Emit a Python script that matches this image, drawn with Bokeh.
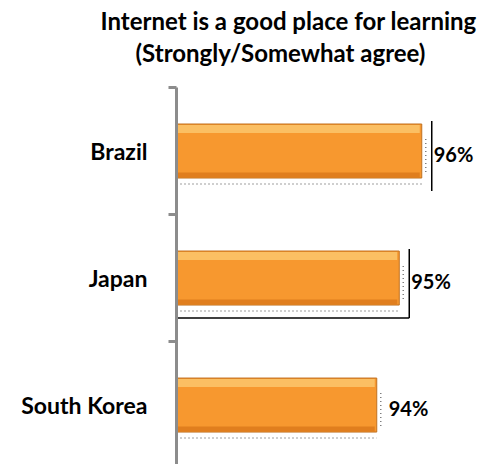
from bokeh.plotting import figure
from bokeh.models import Range1d, FixedTicker, Title, ColumnDataSource
from bokeh.core.properties import value
from bokeh.embed import file_html
from bokeh.resources import INLINE

# ---- data ----
countries = ["Brazil", "Japan", "South Korea"]
agree_pct = [96, 95, 94]
title_line1 = "Internet is a good place for learning"
title_line2 = "(Strongly/Somewhat agree)"

FONT = "Lato"
pos = list(range(len(countries)))
labels = [f"{v}%" for v in agree_pct]

W, H = 485, 464
LEFT, TOP = 176, 87
x_start = 85.1
px_per_unit = 22.5
x_end = x_start + (W - LEFT) / px_per_unit

p = figure(width=W, height=H, output_backend="svg", toolbar_location=None,
           x_range=Range1d(x_start, x_end), y_range=Range1d(2.468, -0.5),
           min_border_left=LEFT, min_border_right=0, min_border_bottom=0, min_border_top=TOP,
           x_axis_location=None)
p.outline_line_color = None
p.xgrid.visible = False
p.ygrid.visible = False
p.background_fill_color = "white"
p.border_fill_color = "white"

src = ColumnDataSource(dict(y=pos, v=agree_pct, lab=labels))

ux = 1.0 / px_per_unit        # one pixel in x data units
uy = 1.0 / 127.0              # one pixel in y data units
bh = 54 * uy

# dotted shadow under bars
p.segment(x0=x_start, x1=agree_pct, y0=[y + 33 * uy for y in pos], y1=[y + 33 * uy for y in pos],
          line_color="#7f7f7f", line_dash="1 3", line_width=1.5)
# dotted line at bar end
p.segment(x0=[v + 4 * ux for v in agree_pct], x1=[v + 4 * ux for v in agree_pct],
          y0=[y - 12 * uy for y in pos], y1=[y + 24 * uy for y in pos],
          line_color="#7f7f7f", line_dash="1 3", line_width=1.5)

# bars
p.hbar(y="y", right="v", left=0, height=bh, source=src,
       fill_color="#F7982F", line_color="#C0701F", line_width=1)
# top highlight
p.hbar(y=[y - bh / 2 + 5 * uy for y in pos], right=[v - 2 * ux for v in agree_pct], left=0,
       height=8 * uy, fill_color="#FBC56C", line_color=None, fill_alpha=0.85)
# bottom shade
p.hbar(y=[y + bh / 2 - 3 * uy for y in pos], right=[v - 2 * ux for v in agree_pct], left=0,
       height=5 * uy, fill_color="#D9781A", line_color=None, fill_alpha=0.8)

# label box edges (as in the original rendering)
p.segment(x0=[agree_pct[0] + 10 * ux], x1=[agree_pct[0] + 10 * ux],
          y0=[pos[0] - 30 * uy], y1=[pos[0] + 40 * uy], line_color="black", line_width=1.5)
p.segment(x0=[agree_pct[1] + 10 * ux, x_start], x1=[agree_pct[1] + 10 * ux, agree_pct[1] + 10 * ux],
          y0=[pos[1] - 29 * uy, pos[1] + 40 * uy], y1=[pos[1] + 40 * uy, pos[1] + 40 * uy],
          line_color="black", line_width=1.5)

# value labels
p.text(x="v", y="y", text="lab", source=src, x_offset=12, y_offset=3,
       text_font=value(FONT), text_font_style="bold", text_font_size="20px",
       text_color="black", text_baseline="middle", text_align="left")

# y axis
ax = p.yaxis[0]
ax.ticker = FixedTicker(ticks=pos, minor_ticks=[-0.5, 0.5, 1.5])
ax.major_label_overrides = {i: c for i, c in zip(pos, countries)}
ax.axis_line_color = "#8c8c8c"
ax.axis_line_width = 3
ax.major_tick_line_color = None
ax.major_tick_out = 0
ax.major_tick_in = 0
ax.minor_tick_line_color = "#8c8c8c"
ax.minor_tick_line_width = 3
ax.minor_tick_out = 8
ax.minor_tick_in = 0
ax.major_label_standoff = 21
ax.major_label_text_font = FONT
ax.major_label_text_font_style = "bold"
ax.major_label_text_font_size = "23px"
ax.major_label_text_color = "black"

# titles (a blank spacer title keeps the two lines clear of the plot)
spacer = Title(text=" ", standoff=0, text_line_height=0.85, text_font=FONT, text_font_size="14px")
t2 = Title(text=title_line2, align="left", offset=-41, standoff=3, text_line_height=0.85,
           text_font=FONT, text_font_style="bold", text_font_size="24px", text_color="black")
t1 = Title(text=title_line1, align="left", offset=-76, standoff=0, text_line_height=0.85,
           text_font=FONT, text_font_style="bold", text_font_size="24px", text_color="black")
p.add_layout(spacer, "above")
p.add_layout(t2, "above")
p.add_layout(t1, "above")

open("out.html", "w").write(file_html(p, INLINE))
